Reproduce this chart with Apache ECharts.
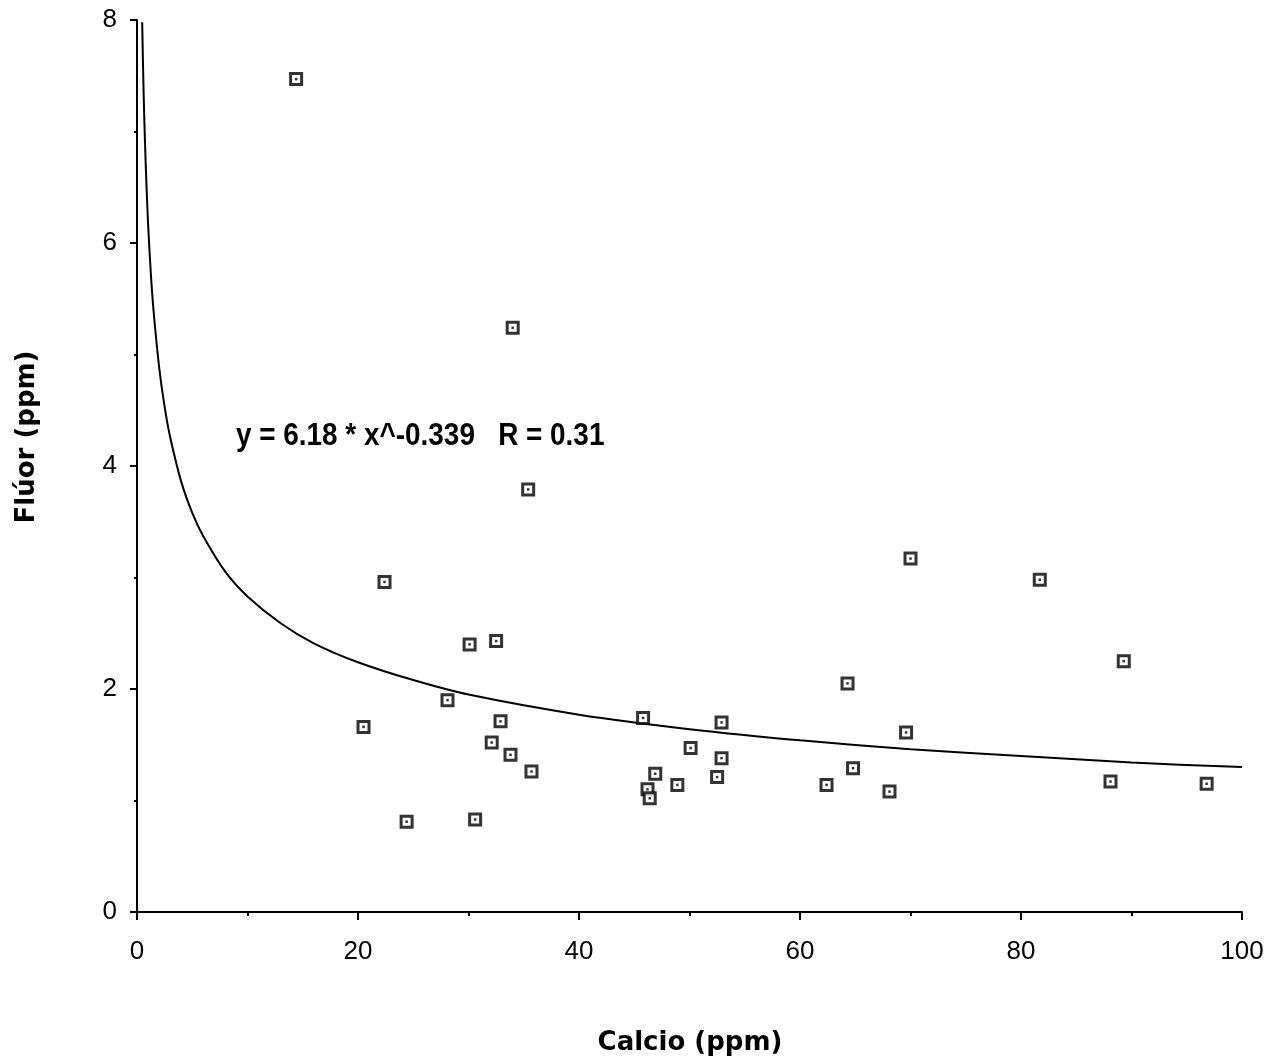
<!DOCTYPE html>
<html>
<head>
<meta charset="utf-8">
<title>Flúor vs Calcio</title>
<script src="https://cdn.jsdelivr.net/npm/echarts@6/dist/echarts.min.js"></script>
<style>
  html, body { margin: 0; padding: 0; background: #fff; }
  #chart { width: 1272px; height: 1062px; }
</style>
</head>
<body>
<div id="chart"></div>
<script>
// Sampled calcium (ppm) and fluoride (ppm) measurements
const calcio = [14.4, 34.0, 35.4, 22.4, 30.1, 32.5, 28.1, 20.5, 32.9, 32.1, 33.8, 35.7,
  24.4, 30.6, 45.8, 52.9, 50.1, 52.9, 46.9, 46.2, 46.4, 48.9, 52.5, 64.3, 70.0, 69.6,
  64.8, 62.4, 68.1, 81.7, 89.3, 88.1, 96.8];
const fluor = [7.47, 5.24, 3.79, 2.96, 2.40, 2.43, 1.90, 1.66, 1.71, 1.52, 1.41, 1.26,
  0.81, 0.83, 1.74, 1.70, 1.47, 1.38, 1.24, 1.10, 1.02, 1.14, 1.21, 2.05, 3.17, 1.61,
  1.29, 1.14, 1.08, 2.98, 2.25, 1.17, 1.15];

// Points along the fitted power curve
const curveX = [0.47, 0.55, 0.65, 0.8, 1, 1.25, 1.5, 2, 2.5, 3, 4, 5, 6, 8, 10, 13, 16,
  20, 25, 30, 40, 50, 60, 70, 80, 90, 100];
const curveY = [7.98, 7.57, 7.15, 6.67, 6.18, 5.73, 5.39, 4.89, 4.53, 4.26, 3.86, 3.58,
  3.37, 3.05, 2.83, 2.59, 2.41, 2.24, 2.08, 1.95, 1.77, 1.64, 1.54, 1.46, 1.40, 1.34, 1.30];

const xTicks = [0, 20, 40, 60, 80, 100];
const yTicks = [0, 2, 4, 6, 8];

const fitLabel = 'y = 6.18 * x^-0.339   R = 0.31';
const xTitle = 'Calcio (ppm)';
const yTitle = 'Flúor (ppm)';

const points = calcio.map((x, i) => [x, fluor[i]]);
const curve = curveX.map((x, i) => [x, curveY[i]]);

const ink = '#000';
const tickFont = { color: ink, fontSize: 26, fontFamily: 'Liberation Sans, Arial, sans-serif' };

const chart = echarts.init(document.getElementById('chart'), null, { renderer: 'canvas' });
chart.setOption({
  backgroundColor: '#fff',
  animation: false,
  grid: { left: 137, right: 30, top: 20, bottom: 150 },
  xAxis: {
    type: 'value',
    min: xTicks[0],
    max: xTicks[xTicks.length - 1],
    interval: xTicks[1] - xTicks[0],
    splitLine: { show: false },
    axisLine: { show: true, onZero: false, lineStyle: { color: ink, width: 2 } },
    axisTick: { show: true, inside: false, length: 8, lineStyle: { color: ink, width: 2 } },
    minorTick: { show: true, splitNumber: 2, length: 4, lineStyle: { color: ink, width: 2 } },
    axisLabel: Object.assign({ margin: 27 }, tickFont)
  },
  yAxis: {
    type: 'value',
    min: yTicks[0],
    max: yTicks[yTicks.length - 1],
    interval: yTicks[1] - yTicks[0],
    splitLine: { show: false },
    axisLine: { show: true, onZero: false, lineStyle: { color: ink, width: 2 } },
    axisTick: { show: true, inside: false, length: 7, lineStyle: { color: ink, width: 2 } },
    minorTick: { show: true, splitNumber: 2, length: 3, lineStyle: { color: ink, width: 2 } },
    axisLabel: Object.assign({ margin: 20 }, tickFont)
  },
  graphic: [
    {
      // condensed equation label
      type: 'text', x: 236, y: 436, scaleX: 0.9,
      style: {
        text: fitLabel, fill: ink, verticalAlign: 'middle',
        font: 'bold 31px "Liberation Sans", Arial, sans-serif'
      }
    },
    {
      type: 'text', x: 690, y: 1043,
      style: {
        text: xTitle, fill: ink, align: 'center', verticalAlign: 'middle',
        font: 'bold 26px "DejaVu Sans", sans-serif', letterSpacing: 3
      }
    },
    {
      type: 'text', x: 27, y: 437, rotation: Math.PI / 2,
      style: {
        text: yTitle, fill: ink, align: 'center', verticalAlign: 'middle',
        font: 'bold 26px "DejaVu Sans", sans-serif', letterSpacing: 3
      }
    }
  ],
  series: [
    {
      type: 'line',
      data: curve,
      smooth: 0.3,
      showSymbol: false,
      lineStyle: { color: ink, width: 2 },
      z: 2
    },
    {
      type: 'scatter',
      data: points,
      symbol: 'rect',
      symbolSize: 11,
      itemStyle: { color: '#fff', borderColor: ink, borderWidth: 3 },
      z: 3
    },
    {
      type: 'scatter',
      data: points,
      symbol: 'rect',
      symbolSize: 2.5,
      itemStyle: { color: ink },
      silent: true,
      z: 4
    }
  ]
});
</script>
</body>
</html>
